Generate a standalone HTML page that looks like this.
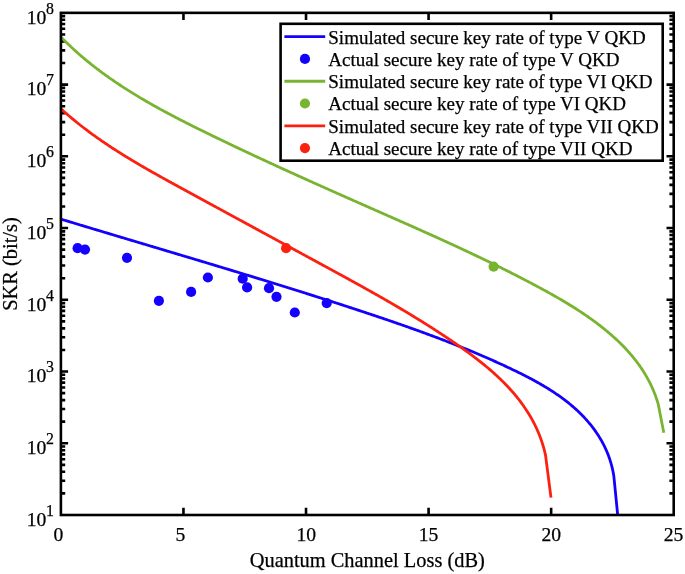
<!DOCTYPE html>
<html><head><meta charset="utf-8"><style>
html,body{margin:0;padding:0;background:#fff;}
svg{display:block;will-change:transform;}
text{font-family:"Liberation Serif",serif;fill:#000;stroke:#000;stroke-width:0.25px;}
.tl{font-size:20.4px;}
.tk{font-size:19.6px;}
.sp{font-size:15.8px;}
.lg{font-size:19.0px;}
</style></head><body>
<svg width="685" height="574" viewBox="0 0 685 574" xmlns="http://www.w3.org/2000/svg">
<rect width="685" height="574" fill="#fff"/>
<path d="M183.46,515.00V507.80M183.46,12.85V20.05M306.02,515.00V507.80M306.02,12.85V20.05M428.58,515.00V507.80M428.58,12.85V20.05M551.14,515.00V507.80M551.14,12.85V20.05M60.90,493.41H65.20M673.70,493.41H669.40M60.90,480.77H65.20M673.70,480.77H669.40M60.90,471.81H65.20M673.70,471.81H669.40M60.90,464.86H65.20M673.70,464.86H669.40M60.90,459.18H65.20M673.70,459.18H669.40M60.90,454.38H65.20M673.70,454.38H669.40M60.90,450.22H65.20M673.70,450.22H669.40M60.90,446.55H65.20M673.70,446.55H669.40M60.90,443.26H68.10M673.70,443.26H666.50M60.90,421.67H65.20M673.70,421.67H669.40M60.90,409.04H65.20M673.70,409.04H669.40M60.90,400.08H65.20M673.70,400.08H669.40M60.90,393.12H65.20M673.70,393.12H669.40M60.90,387.44H65.20M673.70,387.44H669.40M60.90,382.64H65.20M673.70,382.64H669.40M60.90,378.48H65.20M673.70,378.48H669.40M60.90,374.81H65.20M673.70,374.81H669.40M60.90,371.53H68.10M673.70,371.53H666.50M60.90,349.93H65.20M673.70,349.93H669.40M60.90,337.30H65.20M673.70,337.30H669.40M60.90,328.34H65.20M673.70,328.34H669.40M60.90,321.39H65.20M673.70,321.39H669.40M60.90,315.71H65.20M673.70,315.71H669.40M60.90,310.90H65.20M673.70,310.90H669.40M60.90,306.74H65.20M673.70,306.74H669.40M60.90,303.08H65.20M673.70,303.08H669.40M60.90,299.79H68.10M673.70,299.79H666.50M60.90,278.20H65.20M673.70,278.20H669.40M60.90,265.57H65.20M673.70,265.57H669.40M60.90,256.60H65.20M673.70,256.60H669.40M60.90,249.65H65.20M673.70,249.65H669.40M60.90,243.97H65.20M673.70,243.97H669.40M60.90,239.17H65.20M673.70,239.17H669.40M60.90,235.01H65.20M673.70,235.01H669.40M60.90,231.34H65.20M673.70,231.34H669.40M60.90,228.06H68.10M673.70,228.06H666.50M60.90,206.46H65.20M673.70,206.46H669.40M60.90,193.83H65.20M673.70,193.83H669.40M60.90,184.87H65.20M673.70,184.87H669.40M60.90,177.92H65.20M673.70,177.92H669.40M60.90,172.24H65.20M673.70,172.24H669.40M60.90,167.43H65.20M673.70,167.43H669.40M60.90,163.27H65.20M673.70,163.27H669.40M60.90,159.60H65.20M673.70,159.60H669.40M60.90,156.32H68.10M673.70,156.32H666.50M60.90,134.73H65.20M673.70,134.73H669.40M60.90,122.09H65.20M673.70,122.09H669.40M60.90,113.13H65.20M673.70,113.13H669.40M60.90,106.18H65.20M673.70,106.18H669.40M60.90,100.50H65.20M673.70,100.50H669.40M60.90,95.70H65.20M673.70,95.70H669.40M60.90,91.54H65.20M673.70,91.54H669.40M60.90,87.87H65.20M673.70,87.87H669.40M60.90,84.59H68.10M673.70,84.59H666.50M60.90,62.99H65.20M673.70,62.99H669.40M60.90,50.36H65.20M673.70,50.36H669.40M60.90,41.40H65.20M673.70,41.40H669.40M60.90,34.44H65.20M673.70,34.44H669.40M60.90,28.76H65.20M673.70,28.76H669.40M60.90,23.96H65.20M673.70,23.96H669.40M60.90,19.80H65.20M673.70,19.80H669.40M60.90,16.13H65.20M673.70,16.13H669.40" stroke="#000" stroke-width="2.6" fill="none"/>
<path d="M60.91,219.12 L62.12,219.49 L63.32,219.85 L64.53,220.22 L65.73,220.59 L66.94,220.95 L68.15,221.32 L69.35,221.68 L70.56,222.05 L71.76,222.41 L72.97,222.78 L74.18,223.14 L75.38,223.51 L76.59,223.87 L77.80,224.24 L79.00,224.60 L80.21,224.97 L81.42,225.33 L82.63,225.70 L83.83,226.06 L85.04,226.42 L86.25,226.79 L87.45,227.15 L88.66,227.51 L89.87,227.88 L91.08,228.24 L92.29,228.60 L93.49,228.97 L94.70,229.33 L95.91,229.69 L97.12,230.06 L98.33,230.42 L99.53,230.78 L100.74,231.15 L101.95,231.51 L103.16,231.87 L104.37,232.23 L105.58,232.60 L106.78,232.96 L107.99,233.32 L109.20,233.68 L110.41,234.05 L111.62,234.41 L112.83,234.77 L114.04,235.13 L115.25,235.49 L116.45,235.86 L117.66,236.22 L118.87,236.58 L120.08,236.94 L121.29,237.30 L122.50,237.66 L123.71,238.03 L124.92,238.39 L126.13,238.75 L127.34,239.11 L128.55,239.47 L129.76,239.83 L130.97,240.19 L132.18,240.56 L133.39,240.92 L134.60,241.28 L135.81,241.64 L137.02,242.00 L138.23,242.36 L139.44,242.72 L140.65,243.09 L141.86,243.45 L143.06,243.81 L144.27,244.17 L145.48,244.53 L146.69,244.89 L147.90,245.25 L149.12,245.61 L150.33,245.98 L151.54,246.34 L152.75,246.70 L153.96,247.06 L155.17,247.42 L156.38,247.78 L157.59,248.14 L158.80,248.51 L160.01,248.87 L161.22,249.23 L162.43,249.59 L163.64,249.95 L164.85,250.31 L166.06,250.67 L167.27,251.04 L168.48,251.40 L169.69,251.76 L170.90,252.12 L172.11,252.48 L173.32,252.85 L174.53,253.21 L175.74,253.57 L176.95,253.93 L178.16,254.29 L179.37,254.66 L180.58,255.02 L181.79,255.38 L183.00,255.74 L184.21,256.10 L185.42,256.47 L186.63,256.83 L187.84,257.19 L189.05,257.55 L190.26,257.92 L191.47,258.28 L192.68,258.64 L193.89,259.01 L195.10,259.37 L196.31,259.73 L197.52,260.10 L198.73,260.46 L199.94,260.82 L201.15,261.19 L202.36,261.55 L203.57,261.91 L204.78,262.28 L205.99,262.64 L207.20,263.00 L208.41,263.37 L209.62,263.73 L210.83,264.10 L212.04,264.46 L213.25,264.83 L214.46,265.19 L215.67,265.56 L216.88,265.92 L218.09,266.29 L219.30,266.65 L220.51,267.02 L221.72,267.38 L222.93,267.75 L224.14,268.11 L225.35,268.48 L226.56,268.85 L227.77,269.21 L228.98,269.58 L230.19,269.94 L231.39,270.31 L232.60,270.68 L233.81,271.04 L235.02,271.41 L236.23,271.78 L237.44,272.15 L238.65,272.51 L239.86,272.88 L241.07,273.25 L242.27,273.62 L243.48,273.99 L244.69,274.35 L245.90,274.72 L247.11,275.09 L248.32,275.46 L249.52,275.83 L250.73,276.20 L251.94,276.57 L253.15,276.94 L254.36,277.31 L255.56,277.68 L256.77,278.05 L257.98,278.42 L259.19,278.79 L260.39,279.16 L261.60,279.53 L262.81,279.90 L264.02,280.27 L265.22,280.64 L266.43,281.02 L267.64,281.39 L268.84,281.76 L270.05,282.13 L271.26,282.51 L272.46,282.88 L273.67,283.25 L274.88,283.62 L276.08,284.00 L277.29,284.37 L278.50,284.75 L279.70,285.12 L280.91,285.49 L282.11,285.87 L283.32,286.24 L284.52,286.62 L285.73,287.00 L286.94,287.37 L288.14,287.75 L289.35,288.12 L290.55,288.50 L291.76,288.88 L292.96,289.25 L294.17,289.63 L295.37,290.01 L296.58,290.39 L297.78,290.76 L298.98,291.14 L300.19,291.52 L301.39,291.90 L302.60,292.28 L303.80,292.66 L305.00,293.04 L306.21,293.42 L307.41,293.80 L308.62,294.18 L309.82,294.56 L311.02,294.94 L312.22,295.32 L313.43,295.70 L314.63,296.08 L315.83,296.47 L317.04,296.85 L318.24,297.23 L319.44,297.62 L320.64,298.00 L321.84,298.38 L323.05,298.77 L324.25,299.15 L325.45,299.54 L326.65,299.92 L327.85,300.31 L329.05,300.69 L330.25,301.08 L331.46,301.46 L332.66,301.85 L333.86,302.24 L335.06,302.62 L336.26,303.01 L337.46,303.40 L338.66,303.79 L339.86,304.18 L341.06,304.57 L342.26,304.95 L343.46,305.34 L344.65,305.73 L345.85,306.12 L347.05,306.51 L348.25,306.91 L349.45,307.30 L350.65,307.69 L351.85,308.08 L353.04,308.47 L354.24,308.87 L355.44,309.26 L356.64,309.65 L357.83,310.05 L359.03,310.44 L360.23,310.84 L361.43,311.23 L362.62,311.63 L363.82,312.02 L365.02,312.42 L366.21,312.81 L367.41,313.21 L368.60,313.61 L369.80,314.01 L370.99,314.41 L372.19,314.80 L373.38,315.20 L374.58,315.60 L375.77,316.00 L376.97,316.40 L378.16,316.81 L379.36,317.21 L380.55,317.61 L381.74,318.01 L382.94,318.42 L384.13,318.82 L385.32,319.23 L386.52,319.63 L387.71,320.04 L388.90,320.45 L390.09,320.85 L391.28,321.26 L392.48,321.67 L393.67,322.08 L394.86,322.49 L396.05,322.90 L397.24,323.31 L398.43,323.73 L399.62,324.14 L400.81,324.55 L402.00,324.97 L403.19,325.38 L404.38,325.80 L405.56,326.22 L406.75,326.64 L407.94,327.05 L409.13,327.47 L410.31,327.90 L411.50,328.32 L412.69,328.74 L413.88,329.16 L415.06,329.59 L416.25,330.01 L417.43,330.44 L418.62,330.87 L419.80,331.30 L420.99,331.73 L422.17,332.16 L423.36,332.59 L424.54,333.02 L425.72,333.45 L426.91,333.89 L428.09,334.32 L429.27,334.76 L430.45,335.20 L431.63,335.64 L432.82,336.08 L434.00,336.52 L435.18,336.96 L436.36,337.41 L437.54,337.85 L438.72,338.30 L439.90,338.75 L441.07,339.19 L442.25,339.64 L443.43,340.09 L444.61,340.55 L445.79,341.00 L446.96,341.46 L448.14,341.91 L449.32,342.37 L450.49,342.83 L451.67,343.29 L452.84,343.75 L454.02,344.21 L455.19,344.68 L456.36,345.14 L457.54,345.61 L458.71,346.08 L459.88,346.55 L461.06,347.02 L462.23,347.49 L463.40,347.97 L464.57,348.44 L465.74,348.92 L466.91,349.40 L468.08,349.88 L469.25,350.36 L470.42,350.84 L471.59,351.33 L472.75,351.82 L473.92,352.30 L475.09,352.79 L476.25,353.28 L477.42,353.78 L478.59,354.27 L479.75,354.77 L480.92,355.27 L482.08,355.77 L483.24,356.27 L484.41,356.77 L485.57,357.28 L486.73,357.78 L487.89,358.29 L489.05,358.80 L490.21,359.31 L491.37,359.83 L492.53,360.34 L493.69,360.86 L494.85,361.38 L496.01,361.90 L497.17,362.42 L498.33,362.94 L499.48,363.47 L500.64,364.00 L501.79,364.53 L502.95,365.06 L504.10,365.60 L505.26,366.13 L506.41,366.67 L507.57,367.21 L508.72,367.75 L509.87,368.29 L511.02,368.84 L512.17,369.39 L513.32,369.94 L514.47,370.49 L515.62,371.05 L516.77,371.60 L517.91,372.16 L519.06,372.73 L520.20,373.29 L521.34,373.86 L522.48,374.43 L523.62,375.00 L524.75,375.58 L525.89,376.16 L527.02,376.75 L528.15,377.33 L529.28,377.92 L530.40,378.52 L531.52,379.11 L532.64,379.72 L533.76,380.32 L534.88,380.93 L535.99,381.54 L537.10,382.16 L538.20,382.78 L539.31,383.40 L540.41,384.03 L541.50,384.67 L542.60,385.30 L543.69,385.95 L544.77,386.59 L545.85,387.25 L546.93,387.90 L548.00,388.56 L549.07,389.23 L550.14,389.90 L551.20,390.58 L552.26,391.26 L553.31,391.95 L554.36,392.64 L555.40,393.34 L556.44,394.04 L557.47,394.75 L558.50,395.47 L559.53,396.19 L560.55,396.91 L561.56,397.65 L562.57,398.39 L563.57,399.13 L564.57,399.88 L565.56,400.64 L566.54,401.40 L567.52,402.17 L568.49,402.95 L569.46,403.73 L570.42,404.52 L571.38,405.32 L572.32,406.13 L573.27,406.94 L574.20,407.76 L575.13,408.58 L576.05,409.41 L576.97,410.25 L577.87,411.10 L578.77,411.96 L579.67,412.82 L580.55,413.69 L581.43,414.57 L582.30,415.45 L583.17,416.34 L584.02,417.24 L584.87,418.15 L585.70,419.07 L586.53,419.99 L587.35,420.92 L588.17,421.86 L588.97,422.81 L589.76,423.76 L590.55,424.72 L591.32,425.69 L592.09,426.67 L592.85,427.65 L593.59,428.64 L594.33,429.64 L595.06,430.65 L595.77,431.67 L596.48,432.69 L597.17,433.72 L597.86,434.76 L598.53,435.81 L599.19,436.87 L599.84,437.93 L600.48,439.00 L601.11,440.08 L601.73,441.17 L602.33,442.26 L602.92,443.36 L603.50,444.48 L604.07,445.59 L604.63,446.72 L605.17,447.86 L605.70,449.00 L606.22,450.15 L606.72,451.31 L607.21,452.48 L607.69,453.65 L608.16,454.84 L608.61,456.03 L609.04,457.23 L609.47,458.44 L609.88,459.65 L610.27,460.88 L610.65,462.11 L611.02,463.35 L611.37,464.60 L611.71,465.86 L612.03,467.13 L612.33,468.40 L612.62,469.68 L612.90,470.97 L613.16,472.27 L613.40,473.58 L613.63,474.90 L613.84,476.22 L617.60,514.20" stroke="#1400FF" stroke-width="2.8" fill="none" stroke-linejoin="round"/>
<path d="M60.83,36.92 L61.85,37.96 L62.86,38.99 L63.89,40.01 L64.91,41.03 L65.94,42.04 L66.98,43.05 L68.01,44.05 L69.06,45.04 L70.10,46.03 L71.15,47.02 L72.20,48.00 L73.26,48.97 L74.32,49.94 L75.39,50.90 L76.46,51.86 L77.53,52.81 L78.60,53.76 L79.68,54.70 L80.76,55.64 L81.85,56.57 L82.94,57.49 L84.03,58.42 L85.13,59.33 L86.23,60.25 L87.33,61.15 L88.44,62.05 L89.55,62.95 L90.66,63.84 L91.78,64.73 L92.90,65.62 L94.02,66.50 L95.15,67.37 L96.28,68.24 L97.41,69.10 L98.55,69.97 L99.69,70.82 L100.83,71.67 L101.97,72.52 L103.12,73.36 L104.27,74.20 L105.42,75.04 L106.58,75.87 L107.74,76.70 L108.90,77.52 L110.07,78.34 L111.23,79.15 L112.40,79.96 L113.58,80.77 L114.75,81.57 L115.93,82.37 L117.11,83.17 L118.29,83.96 L119.48,84.75 L120.67,85.53 L121.86,86.31 L123.05,87.09 L124.25,87.86 L125.44,88.63 L126.64,89.40 L127.85,90.16 L129.05,90.92 L130.26,91.67 L131.47,92.43 L132.68,93.18 L133.89,93.92 L135.11,94.67 L136.33,95.41 L137.55,96.14 L138.77,96.88 L139.99,97.61 L141.22,98.34 L142.45,99.06 L143.68,99.78 L144.91,100.50 L146.14,101.22 L147.38,101.93 L148.62,102.64 L149.86,103.35 L151.10,104.06 L152.34,104.76 L153.58,105.46 L154.83,106.16 L156.08,106.85 L157.33,107.55 L158.58,108.24 L159.83,108.93 L161.08,109.61 L162.34,110.30 L163.59,110.98 L164.85,111.66 L166.11,112.33 L167.37,113.01 L168.63,113.68 L169.90,114.35 L171.16,115.02 L172.43,115.69 L173.69,116.35 L174.96,117.02 L176.23,117.68 L177.50,118.34 L178.77,118.99 L180.05,119.65 L181.32,120.30 L182.59,120.96 L183.87,121.61 L185.15,122.26 L186.42,122.91 L187.70,123.55 L188.98,124.20 L190.26,124.84 L191.54,125.48 L192.82,126.13 L194.10,126.77 L195.39,127.40 L196.67,128.04 L197.95,128.68 L199.24,129.31 L200.52,129.95 L201.81,130.58 L203.09,131.21 L204.38,131.85 L205.67,132.48 L206.96,133.11 L208.24,133.73 L209.53,134.36 L210.82,134.99 L212.11,135.62 L213.40,136.24 L214.69,136.87 L215.98,137.49 L217.27,138.12 L218.56,138.74 L219.85,139.36 L221.14,139.98 L222.43,140.60 L223.72,141.22 L225.01,141.84 L226.31,142.46 L227.60,143.08 L228.89,143.70 L230.18,144.32 L231.48,144.93 L232.77,145.55 L234.06,146.16 L235.36,146.78 L236.65,147.39 L237.95,148.00 L239.24,148.62 L240.54,149.23 L241.83,149.84 L243.13,150.45 L244.42,151.06 L245.72,151.67 L247.02,152.28 L248.31,152.89 L249.61,153.50 L250.91,154.10 L252.20,154.71 L253.50,155.31 L254.80,155.92 L256.10,156.53 L257.40,157.13 L258.69,157.73 L259.99,158.34 L261.29,158.94 L262.59,159.54 L263.89,160.14 L265.19,160.74 L266.49,161.34 L267.79,161.94 L269.09,162.54 L270.39,163.14 L271.69,163.74 L272.99,164.34 L274.29,164.94 L275.59,165.54 L276.89,166.13 L278.19,166.73 L279.50,167.32 L280.80,167.92 L282.10,168.51 L283.40,169.11 L284.70,169.70 L286.01,170.30 L287.31,170.89 L288.61,171.48 L289.91,172.07 L291.22,172.67 L292.52,173.26 L293.82,173.85 L295.13,174.44 L296.43,175.03 L297.73,175.62 L299.04,176.21 L300.34,176.80 L301.65,177.39 L302.95,177.97 L304.25,178.56 L305.56,179.15 L306.86,179.74 L308.17,180.32 L309.47,180.91 L310.78,181.50 L312.08,182.08 L313.39,182.67 L314.69,183.25 L316.00,183.84 L317.30,184.42 L318.61,185.01 L319.91,185.59 L321.22,186.17 L322.52,186.76 L323.83,187.34 L325.13,187.92 L326.44,188.50 L327.75,189.09 L329.05,189.67 L330.36,190.25 L331.66,190.83 L332.97,191.41 L334.28,191.99 L335.58,192.57 L336.89,193.16 L338.20,193.74 L339.50,194.32 L340.81,194.89 L342.11,195.47 L343.42,196.05 L344.73,196.63 L346.03,197.21 L347.34,197.79 L348.65,198.37 L349.95,198.95 L351.26,199.53 L352.57,200.10 L353.87,200.68 L355.18,201.26 L356.49,201.84 L357.79,202.41 L359.10,202.99 L360.41,203.57 L361.71,204.14 L363.02,204.72 L364.32,205.30 L365.63,205.87 L366.94,206.45 L368.24,207.03 L369.55,207.60 L370.86,208.18 L372.16,208.76 L373.47,209.33 L374.78,209.91 L376.08,210.48 L377.39,211.06 L378.69,211.63 L380.00,212.21 L381.31,212.78 L382.61,213.36 L383.92,213.94 L385.22,214.51 L386.53,215.09 L387.84,215.66 L389.14,216.24 L390.45,216.82 L391.75,217.39 L393.06,217.97 L394.36,218.54 L395.67,219.12 L396.97,219.70 L398.28,220.27 L399.58,220.85 L400.89,221.43 L402.19,222.01 L403.50,222.58 L404.80,223.16 L406.10,223.74 L407.41,224.32 L408.71,224.90 L410.02,225.48 L411.32,226.05 L412.62,226.63 L413.93,227.21 L415.23,227.79 L416.53,228.38 L417.83,228.96 L419.14,229.54 L420.44,230.12 L421.74,230.70 L423.04,231.29 L424.35,231.87 L425.65,232.45 L426.95,233.04 L428.25,233.62 L429.55,234.21 L430.85,234.79 L432.15,235.38 L433.45,235.97 L434.75,236.55 L436.05,237.14 L437.35,237.73 L438.65,238.32 L439.95,238.91 L441.25,239.50 L442.55,240.09 L443.85,240.68 L445.15,241.28 L446.45,241.87 L447.74,242.46 L449.04,243.06 L450.34,243.66 L451.64,244.25 L452.93,244.85 L454.23,245.45 L455.53,246.05 L456.82,246.64 L458.12,247.25 L459.41,247.85 L460.71,248.45 L462.00,249.05 L463.30,249.66 L464.59,250.26 L465.89,250.87 L467.18,251.47 L468.47,252.08 L469.77,252.69 L471.06,253.30 L472.35,253.91 L473.64,254.52 L474.94,255.13 L476.23,255.75 L477.52,256.36 L478.81,256.98 L480.10,257.59 L481.39,258.21 L482.68,258.83 L483.97,259.45 L485.26,260.07 L486.54,260.69 L487.83,261.32 L489.12,261.94 L490.41,262.57 L491.69,263.19 L492.98,263.82 L494.27,264.45 L495.55,265.08 L496.84,265.71 L498.12,266.35 L499.41,266.98 L500.69,267.62 L501.98,268.25 L503.26,268.89 L504.54,269.53 L505.83,270.17 L507.11,270.82 L508.39,271.46 L509.67,272.11 L510.95,272.75 L512.23,273.40 L513.51,274.05 L514.79,274.70 L516.07,275.35 L517.35,276.01 L518.63,276.66 L519.90,277.32 L521.18,277.98 L522.46,278.64 L523.73,279.30 L525.01,279.96 L526.29,280.63 L527.56,281.30 L528.83,281.96 L530.11,282.63 L531.38,283.30 L532.65,283.98 L533.93,284.65 L535.20,285.33 L536.47,286.01 L537.74,286.69 L539.01,287.37 L540.28,288.05 L541.55,288.74 L542.81,289.43 L544.08,290.12 L545.34,290.81 L546.61,291.50 L547.87,292.20 L549.13,292.90 L550.39,293.60 L551.65,294.30 L552.91,295.01 L554.16,295.72 L555.41,296.43 L556.66,297.15 L557.91,297.87 L559.16,298.59 L560.40,299.31 L561.65,300.04 L562.89,300.77 L564.13,301.50 L565.36,302.24 L566.59,302.98 L567.82,303.73 L569.05,304.47 L570.27,305.23 L571.50,305.98 L572.71,306.74 L573.93,307.50 L575.14,308.27 L576.35,309.04 L577.56,309.82 L578.76,310.60 L579.96,311.38 L581.15,312.17 L582.34,312.96 L583.53,313.76 L584.72,314.56 L585.90,315.36 L587.07,316.17 L588.24,316.99 L589.41,317.81 L590.57,318.63 L591.73,319.46 L592.89,320.30 L594.04,321.14 L595.18,321.98 L596.32,322.83 L597.46,323.69 L598.59,324.55 L599.72,325.42 L600.84,326.29 L601.95,327.17 L603.06,328.05 L604.17,328.94 L605.27,329.84 L606.36,330.74 L607.45,331.64 L608.53,332.56 L609.61,333.48 L610.68,334.40 L611.75,335.33 L612.81,336.27 L613.86,337.21 L614.91,338.16 L615.95,339.12 L616.99,340.09 L618.01,341.06 L619.03,342.03 L620.05,343.02 L621.05,344.01 L622.05,345.01 L623.04,346.01 L624.02,347.02 L625.00,348.04 L625.96,349.07 L626.92,350.11 L627.87,351.15 L628.81,352.20 L629.74,353.25 L630.66,354.32 L631.58,355.39 L632.48,356.47 L633.37,357.56 L634.26,358.66 L635.13,359.76 L636.00,360.87 L636.85,361.99 L637.70,363.12 L638.53,364.26 L639.35,365.41 L640.16,366.56 L640.96,367.72 L641.75,368.90 L642.53,370.08 L643.30,371.27 L644.05,372.46 L644.79,373.67 L645.52,374.89 L646.24,376.11 L646.95,377.35 L647.64,378.59 L648.32,379.85 L648.99,381.11 L649.64,382.38 L650.29,383.66 L650.91,384.95 L651.53,386.26 L652.13,387.57 L652.71,388.89 L653.29,390.22 L653.84,391.56 L654.39,392.91 L654.92,394.27 L655.43,395.65 L655.93,397.03 L656.41,398.42 L656.88,399.82 L657.34,401.24 L657.77,402.66 L658.19,404.10 L663.80,432.80" stroke="#79B431" stroke-width="2.8" fill="none" stroke-linejoin="round"/>
<path d="M60.86,108.73 L61.77,109.55 L62.68,110.37 L63.59,111.19 L64.51,112.00 L65.42,112.81 L66.34,113.61 L67.27,114.41 L68.19,115.21 L69.12,116.00 L70.05,116.79 L70.98,117.58 L71.91,118.36 L72.85,119.14 L73.79,119.92 L74.73,120.69 L75.68,121.46 L76.62,122.23 L77.57,122.99 L78.52,123.75 L79.47,124.51 L80.43,125.26 L81.39,126.01 L82.35,126.75 L83.31,127.50 L84.27,128.24 L85.24,128.97 L86.21,129.71 L87.18,130.44 L88.15,131.16 L89.12,131.89 L90.10,132.61 L91.08,133.33 L92.06,134.04 L93.04,134.76 L94.02,135.47 L95.01,136.17 L96.00,136.88 L96.99,137.58 L97.98,138.28 L98.97,138.97 L99.97,139.67 L100.96,140.36 L101.96,141.05 L102.96,141.73 L103.96,142.42 L104.97,143.10 L105.97,143.78 L106.98,144.45 L107.99,145.13 L109.00,145.80 L110.01,146.47 L111.02,147.13 L112.04,147.80 L113.05,148.46 L114.07,149.12 L115.09,149.78 L116.11,150.43 L117.13,151.08 L118.16,151.74 L119.18,152.39 L120.21,153.03 L121.24,153.68 L122.27,154.32 L123.30,154.96 L124.33,155.60 L125.36,156.24 L126.40,156.87 L127.43,157.51 L128.47,158.14 L129.50,158.77 L130.54,159.40 L131.58,160.03 L132.62,160.65 L133.67,161.28 L134.71,161.90 L135.75,162.52 L136.80,163.14 L137.85,163.76 L138.89,164.37 L139.94,164.99 L140.99,165.60 L142.04,166.21 L143.09,166.82 L144.14,167.43 L145.20,168.04 L146.25,168.65 L147.30,169.25 L148.36,169.86 L149.42,170.46 L150.47,171.06 L151.53,171.66 L152.59,172.26 L153.65,172.86 L154.71,173.46 L155.77,174.06 L156.83,174.65 L157.89,175.25 L158.95,175.84 L160.01,176.43 L161.08,177.03 L162.14,177.62 L163.20,178.21 L164.27,178.80 L165.33,179.39 L166.40,179.98 L167.46,180.57 L168.53,181.15 L169.60,181.74 L170.66,182.33 L171.73,182.92 L172.80,183.50 L173.87,184.09 L174.94,184.67 L176.00,185.26 L177.07,185.84 L178.14,186.42 L179.21,187.01 L180.28,187.59 L181.35,188.17 L182.42,188.76 L183.49,189.34 L184.56,189.92 L185.63,190.51 L186.70,191.09 L187.77,191.67 L188.83,192.25 L189.90,192.84 L190.97,193.42 L192.04,194.00 L193.11,194.58 L194.18,195.17 L195.25,195.75 L196.32,196.33 L197.39,196.91 L198.46,197.50 L199.53,198.08 L200.60,198.66 L201.67,199.24 L202.74,199.82 L203.81,200.41 L204.88,200.99 L205.95,201.57 L207.02,202.15 L208.09,202.74 L209.16,203.32 L210.23,203.90 L211.30,204.48 L212.37,205.06 L213.44,205.65 L214.50,206.23 L215.57,206.81 L216.64,207.39 L217.71,207.97 L218.78,208.56 L219.85,209.14 L220.92,209.72 L221.99,210.30 L223.06,210.88 L224.13,211.47 L225.20,212.05 L226.27,212.63 L227.34,213.21 L228.41,213.79 L229.48,214.37 L230.55,214.96 L231.62,215.54 L232.69,216.12 L233.76,216.70 L234.82,217.28 L235.89,217.86 L236.96,218.45 L238.03,219.03 L239.10,219.61 L240.17,220.19 L241.24,220.77 L242.31,221.35 L243.38,221.94 L244.45,222.52 L245.52,223.10 L246.59,223.68 L247.66,224.26 L248.73,224.84 L249.79,225.42 L250.86,226.00 L251.93,226.59 L253.00,227.17 L254.07,227.75 L255.14,228.33 L256.21,228.91 L257.28,229.49 L258.35,230.07 L259.42,230.65 L260.49,231.24 L261.55,231.82 L262.62,232.40 L263.69,232.98 L264.76,233.56 L265.83,234.14 L266.90,234.72 L267.97,235.30 L269.04,235.88 L270.10,236.46 L271.17,237.05 L272.24,237.63 L273.31,238.21 L274.38,238.79 L275.45,239.37 L276.52,239.95 L277.59,240.53 L278.65,241.11 L279.72,241.69 L280.79,242.27 L281.86,242.85 L282.93,243.43 L284.00,244.01 L285.06,244.60 L286.13,245.18 L287.20,245.76 L288.27,246.34 L289.34,246.92 L290.41,247.50 L291.47,248.08 L292.54,248.66 L293.61,249.24 L294.68,249.82 L295.75,250.40 L296.82,250.98 L297.88,251.56 L298.95,252.14 L300.02,252.72 L301.09,253.30 L302.16,253.88 L303.22,254.46 L304.29,255.04 L305.36,255.62 L306.43,256.20 L307.49,256.78 L308.56,257.36 L309.63,257.94 L310.70,258.52 L311.76,259.10 L312.83,259.68 L313.90,260.26 L314.97,260.84 L316.03,261.42 L317.10,262.00 L318.17,262.58 L319.24,263.16 L320.30,263.74 L321.37,264.32 L322.44,264.90 L323.50,265.48 L324.57,266.06 L325.64,266.64 L326.71,267.22 L327.77,267.80 L328.84,268.38 L329.91,268.96 L330.97,269.54 L332.04,270.12 L333.11,270.70 L334.17,271.28 L335.24,271.86 L336.30,272.44 L337.37,273.03 L338.43,273.61 L339.50,274.19 L340.57,274.77 L341.63,275.35 L342.70,275.94 L343.76,276.52 L344.83,277.10 L345.89,277.68 L346.95,278.27 L348.02,278.85 L349.08,279.44 L350.15,280.02 L351.21,280.61 L352.27,281.19 L353.34,281.78 L354.40,282.36 L355.46,282.95 L356.52,283.54 L357.59,284.13 L358.65,284.71 L359.71,285.30 L360.77,285.89 L361.83,286.48 L362.89,287.07 L363.95,287.66 L365.01,288.25 L366.07,288.85 L367.13,289.44 L368.19,290.03 L369.25,290.62 L370.31,291.22 L371.37,291.81 L372.43,292.41 L373.48,293.01 L374.54,293.60 L375.60,294.20 L376.65,294.80 L377.71,295.40 L378.77,296.00 L379.82,296.60 L380.88,297.20 L381.93,297.80 L382.99,298.41 L384.04,299.01 L385.09,299.61 L386.15,300.22 L387.20,300.83 L388.25,301.43 L389.30,302.04 L390.35,302.65 L391.40,303.26 L392.46,303.87 L393.51,304.48 L394.55,305.10 L395.60,305.71 L396.65,306.33 L397.70,306.94 L398.75,307.56 L399.80,308.18 L400.84,308.80 L401.89,309.42 L402.93,310.04 L403.98,310.66 L405.02,311.28 L406.07,311.91 L407.11,312.53 L408.15,313.16 L409.20,313.79 L410.24,314.42 L411.28,315.05 L412.32,315.68 L413.36,316.31 L414.40,316.95 L415.44,317.58 L416.48,318.22 L417.51,318.85 L418.55,319.49 L419.59,320.13 L420.62,320.78 L421.66,321.42 L422.69,322.06 L423.73,322.71 L424.76,323.36 L425.79,324.00 L426.83,324.65 L427.86,325.31 L428.89,325.96 L429.92,326.61 L430.95,327.27 L431.98,327.93 L433.01,328.58 L434.03,329.24 L435.06,329.91 L436.09,330.57 L437.11,331.23 L438.14,331.90 L439.16,332.57 L440.18,333.24 L441.21,333.91 L442.23,334.58 L443.25,335.25 L444.27,335.93 L445.29,336.61 L446.31,337.29 L447.32,337.97 L448.34,338.65 L449.36,339.34 L450.37,340.02 L451.39,340.71 L452.40,341.40 L453.42,342.09 L454.43,342.78 L455.44,343.48 L456.45,344.18 L457.46,344.88 L458.46,345.58 L459.47,346.28 L460.48,346.98 L461.48,347.69 L462.48,348.40 L463.48,349.11 L464.48,349.83 L465.47,350.54 L466.47,351.26 L467.46,351.98 L468.45,352.71 L469.44,353.43 L470.43,354.16 L471.41,354.89 L472.39,355.63 L473.37,356.37 L474.35,357.11 L475.32,357.85 L476.29,358.59 L477.26,359.34 L478.22,360.09 L479.19,360.85 L480.14,361.60 L481.10,362.36 L482.05,363.12 L483.00,363.89 L483.95,364.66 L484.89,365.43 L485.83,366.21 L486.76,366.99 L487.70,367.77 L488.62,368.56 L489.55,369.35 L490.47,370.14 L491.38,370.93 L492.30,371.73 L493.20,372.54 L494.11,373.35 L495.01,374.16 L495.90,374.97 L496.79,375.79 L497.67,376.61 L498.56,377.44 L499.43,378.27 L500.30,379.10 L501.17,379.94 L502.03,380.78 L502.88,381.63 L503.74,382.48 L504.58,383.34 L505.42,384.20 L506.26,385.06 L507.08,385.93 L507.91,386.80 L508.73,387.68 L509.54,388.56 L510.34,389.44 L511.14,390.33 L511.94,391.23 L512.73,392.13 L513.51,393.03 L514.28,393.94 L515.05,394.85 L515.82,395.77 L516.57,396.70 L517.32,397.62 L518.07,398.56 L518.80,399.50 L519.53,400.44 L520.26,401.39 L520.97,402.34 L521.68,403.30 L522.38,404.27 L523.08,405.23 L523.76,406.21 L524.44,407.19 L525.12,408.18 L525.78,409.17 L526.44,410.16 L527.09,411.17 L527.73,412.17 L528.36,413.19 L528.99,414.21 L529.61,415.23 L530.21,416.26 L530.82,417.30 L531.41,418.34 L531.99,419.39 L532.57,420.44 L533.14,421.50 L533.70,422.57 L534.25,423.64 L534.79,424.72 L535.32,425.80 L535.84,426.90 L536.36,427.99 L536.86,429.10 L537.36,430.21 L537.85,431.32 L538.33,432.44 L538.79,433.57 L539.25,434.71 L539.70,435.85 L540.14,437.00 L540.57,438.16 L540.99,439.32 L541.40,440.49 L541.80,441.66 L542.19,442.85 L542.57,444.04 L542.94,445.23 L543.30,446.44 L543.65,447.65 L543.99,448.87 L544.31,450.09 L544.63,451.32 L544.94,452.56 L545.23,453.81 L545.52,455.06 L551.00,497.60" stroke="#FC2010" stroke-width="2.8" fill="none" stroke-linejoin="round"/>
<circle cx="77.6" cy="248.2" r="5.1" fill="#1400FF"/>
<circle cx="85.0" cy="249.6" r="5.1" fill="#1400FF"/>
<circle cx="127.0" cy="257.8" r="5.1" fill="#1400FF"/>
<circle cx="158.9" cy="300.8" r="5.1" fill="#1400FF"/>
<circle cx="191.1" cy="291.9" r="5.1" fill="#1400FF"/>
<circle cx="207.9" cy="277.5" r="5.1" fill="#1400FF"/>
<circle cx="242.7" cy="278.7" r="5.1" fill="#1400FF"/>
<circle cx="247.1" cy="287.4" r="5.1" fill="#1400FF"/>
<circle cx="269.0" cy="288.2" r="5.1" fill="#1400FF"/>
<circle cx="276.5" cy="296.8" r="5.1" fill="#1400FF"/>
<circle cx="294.8" cy="312.5" r="5.1" fill="#1400FF"/>
<circle cx="326.7" cy="303.1" r="5.1" fill="#1400FF"/>
<circle cx="286.1" cy="248.2" r="5.1" fill="#FC2010"/>
<circle cx="493.6" cy="266.7" r="5.1" fill="#79B431"/>
<rect x="60.9" y="12.85" width="612.80" height="502.15" stroke="#000" stroke-width="2.6" fill="none"/>
<rect x="280.6" y="23.8" width="382.10" height="136.90" stroke="#000" stroke-width="2.6" fill="#fff"/>
<path d="M284.4,36.70H325.2" stroke="#1400FF" stroke-width="2.8"/>
<text x="328.3" y="43.50" class="lg">Simulated secure key rate of type V QKD</text>
<circle cx="304.95" cy="58.97" r="5.1" fill="#1400FF"/>
<text x="328.3" y="65.77" class="lg">Actual secure key rate of type V QKD</text>
<path d="M284.4,81.24H325.2" stroke="#79B431" stroke-width="2.8"/>
<text x="328.3" y="88.04" class="lg">Simulated secure key rate of type VI QKD</text>
<circle cx="304.95" cy="103.51" r="5.1" fill="#79B431"/>
<text x="328.3" y="110.31" class="lg">Actual secure key rate of type VI QKD</text>
<path d="M284.4,125.78H325.2" stroke="#FC2010" stroke-width="2.8"/>
<text x="328.3" y="132.58" class="lg">Simulated secure key rate of type VII QKD</text>
<circle cx="304.95" cy="148.05" r="5.1" fill="#FC2010"/>
<text x="328.3" y="154.85" class="lg">Actual secure key rate of type VII QKD</text>
<text x="58.40" y="540.6" class="tk" text-anchor="middle">0</text>
<text x="180.30" y="540.6" class="tk" text-anchor="middle">5</text>
<text x="306.20" y="540.6" class="tk" text-anchor="middle">10</text>
<text x="428.50" y="540.6" class="tk" text-anchor="middle">15</text>
<text x="551.30" y="540.6" class="tk" text-anchor="middle">20</text>
<text x="673.55" y="540.6" class="tk" text-anchor="middle">25</text>
<text x="26.7" y="525.80" class="tk">10<tspan class="sp" dx="-0.2" dy="-9.9">1</tspan></text>
<text x="26.7" y="454.06" class="tk">10<tspan class="sp" dx="-0.2" dy="-9.9">2</tspan></text>
<text x="26.7" y="382.33" class="tk">10<tspan class="sp" dx="-0.2" dy="-9.9">3</tspan></text>
<text x="26.7" y="310.59" class="tk">10<tspan class="sp" dx="-0.2" dy="-9.9">4</tspan></text>
<text x="26.7" y="238.86" class="tk">10<tspan class="sp" dx="-0.2" dy="-9.9">5</tspan></text>
<text x="26.7" y="167.12" class="tk">10<tspan class="sp" dx="-0.2" dy="-9.9">6</tspan></text>
<text x="26.7" y="95.39" class="tk">10<tspan class="sp" dx="-0.2" dy="-9.9">7</tspan></text>
<text x="26.7" y="23.65" class="tk">10<tspan class="sp" dx="-0.2" dy="-9.9">8</tspan></text>
<text x="367.3" y="567.3" class="tl" text-anchor="middle">Quantum Channel Loss (dB)</text>
<text transform="translate(16.6,264.0) rotate(-90)" class="tl" text-anchor="middle">SKR (bit/s)</text>
</svg></body></html>
